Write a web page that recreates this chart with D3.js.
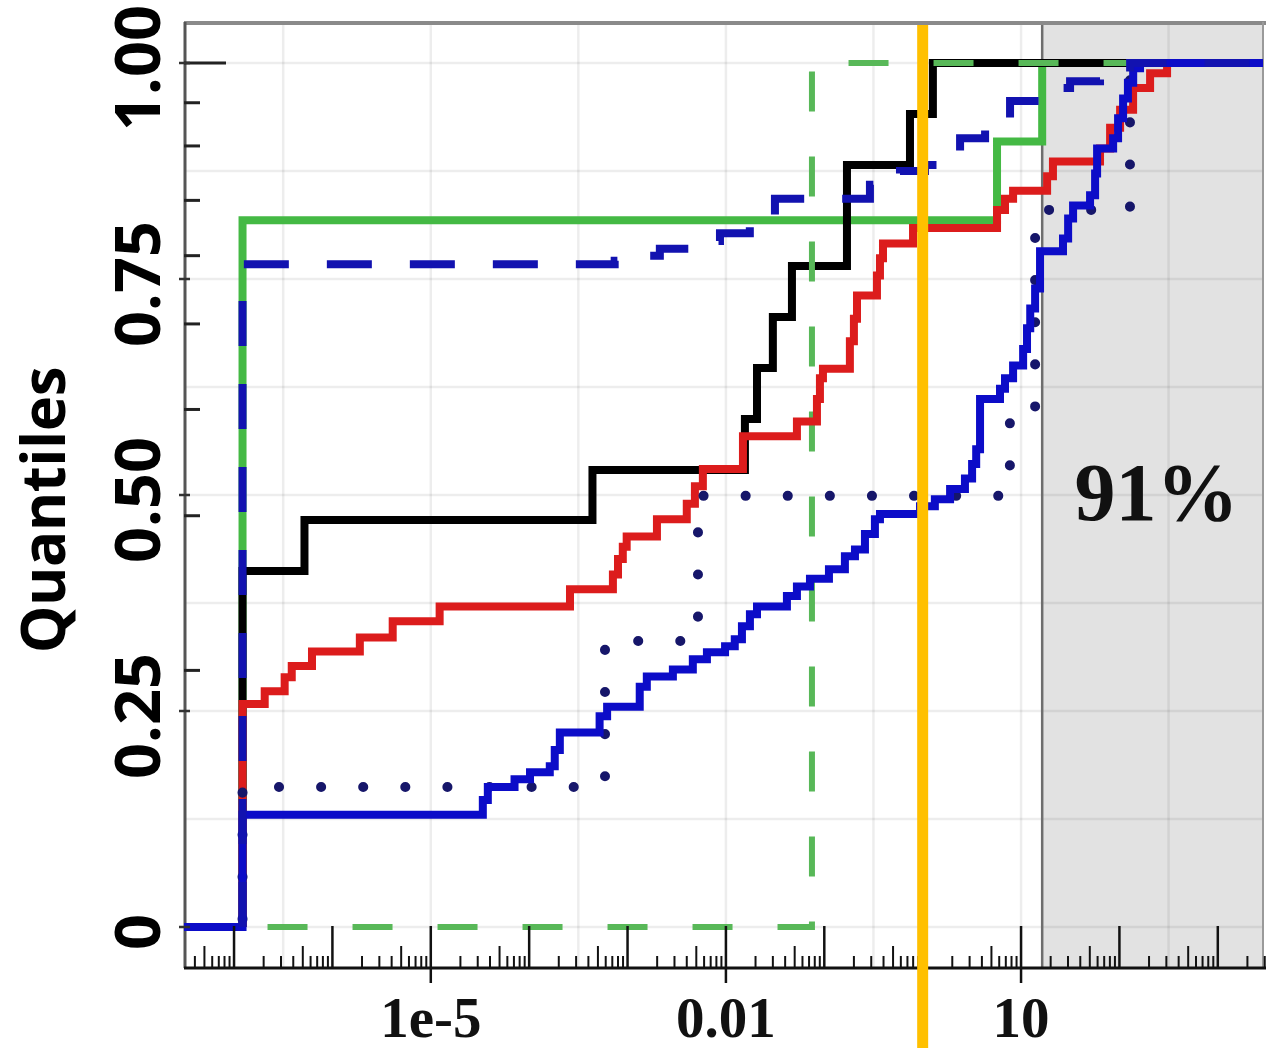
<!DOCTYPE html>
<html>
<head>
<meta charset="utf-8">
<script src="https://cdn.jsdelivr.net/npm/d3@7"></script>
<style>
  body { margin: 0; background: #fff; }
  svg { display: block; }
</style>
</head>
<body>
<svg></svg>
<script>
// Axis extents: log x, quantile y
const xDomain = [3.1e-8, 3090];
const yDomain = [0, 1];

// Tick values and labels
const yTicks = [0, 0.25, 0.5, 0.75, 1];
const yTickLabels = ["0", "0.25", "0.50", "0.75", "1.00"];
const yInnerTicks = [1.0, 0.954, 0.904, 0.841, 0.777, 0.698, 0.599, 0.476, 0.297];
const yGrid = [0, 0.125, 0.25, 0.375, 0.5, 0.625, 0.75, 0.875, 1];
const xGrid = [3.16e-7, 1e-5, 3.16e-4, 0.01, 0.316, 10, 316];
const xLabelTicks = [1e-5, 0.01, 10];
const xLabels = ["1e-5", "0.01", "10"];

// Shaded region and marker
const shadeFrom = 16.4;
const shadeLabel = "91%";
const markerX = 1;

// Series: [value, quantile], drawn as steps
const blackCdf = [
  [1.22e-7, 0], [1.22e-7, 0.412], [5.2e-7, 0.471], [4.4e-4, 0.529], [0.0156, 0.588],
  [0.0207, 0.647], [0.030, 0.706], [0.0469, 0.765], [0.170, 0.882], [0.743, 0.941], [1.27, 1.0]
];
const redCdf = [
  [1.22e-7, 0], [1.22e-7, 0.258], [2.05e-7, 0.273], [3.27e-7, 0.289], [3.86e-7, 0.302],
  [6.2e-7, 0.319], [1.9e-6, 0.335], [4.1e-6, 0.354], [1.23e-5, 0.371], [2.6e-4, 0.391],
  [7.1e-4, 0.408], [8.0e-4, 0.426], [8.95e-4, 0.440], [9.8e-4, 0.452], [1.99e-3, 0.472],
  [4.0e-3, 0.490], [4.84e-3, 0.510], [5.83e-3, 0.530], [0.0149, 0.568], [0.0527, 0.585],
  [0.0842, 0.611], [0.0903, 0.635], [0.0969, 0.646], [0.182, 0.678], [0.200, 0.704],
  [0.215, 0.731], [0.343, 0.754], [0.368, 0.774], [0.395, 0.791], [0.798, 0.809],
  [5.70, 0.830], [6.87, 0.843], [8.30, 0.852], [18.4, 0.869], [21.1, 0.886],
  [63.5, 0.901], [80.4, 0.925], [101.6, 0.946], [137.7, 0.971], [205, 0.988], [305, 1.0]
];
const blueCdf = [
  [3.1e-8, 0], [1.22e-7, 0.130], [3.38e-5, 0.147], [3.8e-5, 0.162], [7.1e-5, 0.171],
  [1.02e-4, 0.179], [1.62e-4, 0.186], [1.82e-4, 0.205], [2.05e-4, 0.225], [5.2e-4, 0.244],
  [6.2e-4, 0.255], [1.33e-3, 0.278], [1.57e-3, 0.290], [2.89e-3, 0.298], [4.61e-3, 0.310],
  [6.41e-3, 0.318], [9.8e-3, 0.325], [0.0123, 0.333], [0.01455, 0.348], [0.01754, 0.362],
  [0.0207, 0.371], [0.0417, 0.383], [0.0527, 0.394], [0.0715, 0.403], [0.1115, 0.414],
  [0.162, 0.429], [0.205, 0.437], [0.259, 0.455], [0.327, 0.472], [0.368, 0.478],
  [0.94, 0.487], [1.33, 0.495], [1.90, 0.507], [2.69, 0.519], [3.18, 0.536],
  [3.5, 0.553], [3.83, 0.611], [6.11, 0.623], [6.87, 0.635], [8.30, 0.650],
  [10.5, 0.669], [11.5, 0.693], [12.4, 0.716], [13.9, 0.739], [15.6, 0.782],
  [26.7, 0.797], [30.1, 0.820], [33.8, 0.835], [50.3, 0.847], [56.6, 0.872],
  [59.3, 0.901], [86.3, 0.913], [96.9, 0.936], [109, 0.959], [122, 0.977],
  [138, 0.994], [162, 1.0]
];
const blueDashed = [
  [1.22e-7, 0], [1.22e-7, 0.767], [7.4e-4, 0.771], [1.33e-3, 0.777], [2.13e-3, 0.785],
  [4.3e-3, 0.794], [8.7e-3, 0.803], [0.0175, 0.820], [0.0315, 0.843], [0.291, 0.859],
  [0.588, 0.875], [1.056, 0.882], [2.40, 0.913], [4.31, 0.928], [7.73, 0.956],
  [15.6, 0.971], [31.5, 0.979], [63.5, 0.990], [128.5, 1.0]
];
const blueDotted = [
  [1.22e-7, 0], [1.22e-7, 0.162], [5.9e-4, 0.331], [5.2e-3, 0.499], [7.7, 0.591],
  [13.9, 0.830], [128, 1.0]
];
const greenCdf = [
  [1.22e-7, 0], [1.22e-7, 0.818], [5.7, 0.909], [16.4, 1.0]
];
const greenDashed = [
  [1.22e-7, 0], [0.0749, 1.0]
];

// Layout
const W = 1266, H = 1048;
const plot = {left: 184, right: 1263, top: 22, bottom: 968};

const svg = d3.select("svg")
              .attr("width", W)
              .attr("height", H)
              .style("background", "#fff");

const x = d3.scaleLog().domain(xDomain).range([184, 1266]);
const y = d3.scaleLinear().domain(yDomain).range([927, 63]);

svg.append("clipPath").attr("id", "clip")
   .append("rect")
   .attr("x", plot.left).attr("y", plot.top)
   .attr("width", plot.right - plot.left).attr("height", plot.bottom - plot.top);

// Gray shaded region
svg.append("rect")
   .attr("x", x(shadeFrom))
   .attr("y", plot.top)
   .attr("width", plot.right - x(shadeFrom))
   .attr("height", plot.bottom - plot.top)
   .attr("fill", "#e2e2e2");

// Grid lines
const grid = svg.append("g").attr("stroke", "#000").attr("stroke-opacity", 0.07).attr("stroke-width", 2.5);
grid.selectAll(".gy").data(yGrid).enter().append("line")
    .attr("x1", plot.left).attr("x2", plot.right)
    .attr("y1", d => y(d)).attr("y2", d => y(d));
grid.selectAll(".gx").data(xGrid).enter().append("line")
    .attr("x1", d => x(d)).attr("x2", d => x(d))
    .attr("y1", plot.top).attr("y2", plot.bottom);

// Shade boundary
svg.append("line")
   .attr("x1", x(shadeFrom)).attr("x2", x(shadeFrom))
   .attr("y1", plot.top).attr("y2", plot.bottom)
   .attr("stroke", "#6e6e6e").attr("stroke-width", 2.5);

// Frame
svg.append("line").attr("x1", plot.left).attr("x2", W).attr("y1", plot.top + 1).attr("y2", plot.top + 1)
   .attr("stroke", "#8a8a8a").attr("stroke-width", 4);
svg.append("line").attr("x1", plot.right).attr("x2", plot.right).attr("y1", plot.top).attr("y2", plot.bottom)
   .attr("stroke", "#9a9a9a").attr("stroke-width", 2);
svg.append("line").attr("x1", plot.left + 1).attr("x2", plot.left + 1).attr("y1", plot.top).attr("y2", plot.bottom)
   .attr("stroke", "#555").attr("stroke-width", 3);

// Series
const line = d3.line()
               .x(d => x(d[0]))
               .y(d => y(d[1]))
               .curve(d3.curveStepAfter);
const extend = s => s.concat([[xDomain[1], s[s.length - 1][1]]]);

const layer = svg.append("g").attr("clip-path", "url(#clip)").attr("fill", "none")
                 .attr("stroke-linejoin", "miter");

const series = [
  {data: greenCdf, color: "#44b944", width: 8, dash: null},
  {data: blackCdf, color: "#000000", width: 8, dash: null},
  {data: greenDashed, color: "#58b858", width: 6, dash: "40 45", offset: -25},
  {data: redCdf, color: "#dc1c1c", width: 8, dash: null},
  {data: blueDotted, color: "#16166a", width: 10, dash: "0.1 42", cap: "round", offset: -8, noExtend: true},
  {data: blueCdf, color: "#0c0cc8", width: 8, dash: null},
  {data: blueDashed, color: "#1212b0", width: 8, dash: "45 38"}
];

series.forEach(s => {
  layer.append("path")
       .attr("d", line(s.noExtend ? s.data : extend(s.data)))
       .attr("stroke", s.color)
       .attr("stroke-width", s.width)
       .attr("stroke-dasharray", s.dash)
       .attr("stroke-dashoffset", s.offset || 0)
       .attr("stroke-linecap", s.cap || "butt");
});

// Y axis ticks
svg.selectAll(".yinner").data(yInnerTicks).enter().append("line")
   .attr("x1", plot.left).attr("x2", (d, i) => plot.left + (i === 0 ? 42 : 16))
   .attr("y1", d => y(d)).attr("y2", d => y(d))
   .attr("stroke", "#222").attr("stroke-width", 3);
svg.selectAll(".ymajor").data(yTicks).enter().append("line")
   .attr("x1", plot.left - 5).attr("x2", plot.left + 6)
   .attr("y1", d => y(d)).attr("y2", d => y(d))
   .attr("stroke", "#333").attr("stroke-width", 2.5);

svg.selectAll(".ylab").data(yTicks).enter().append("text")
   .attr("transform", d => `translate(160,${y(d) + 5}) rotate(-90)`)
   .attr("text-anchor", "middle")
   .attr("font-family", "'Open Sans', sans-serif")
   .attr("font-weight", "bold")
   .attr("font-size", 63)
   .attr("fill", "#000")
   .text((d, i) => yTickLabels[i]);

svg.append("text")
   .attr("transform", `translate(65,510) rotate(-90)`)
   .attr("text-anchor", "middle")
   .attr("font-family", "'Open Sans', sans-serif")
   .attr("font-weight", "bold")
   .attr("font-size", 60)
   .attr("letter-spacing", -0.5)
   .attr("fill", "#000")
   .text("Quantiles");

// X axis: log ticks pointing up into the plot
const logTicks = [];
for (let e = -8; e <= 3; e++) {
  for (let m = 1; m <= 9; m++) {
    const v = m * Math.pow(10, e);
    if (v >= xDomain[0] && v <= xDomain[1]) logTicks.push({v, m});
  }
}
svg.selectAll(".xt").data(logTicks).enter().append("line")
   .attr("x1", d => x(d.v)).attr("x2", d => x(d.v))
   .attr("y1", plot.bottom)
   .attr("y2", d => plot.bottom - (d.m === 1 ? 42 : d.m === 5 ? 22 : 12))
   .attr("stroke", "#111").attr("stroke-width", d => d.m === 1 ? 2.5 : 2);

svg.selectAll(".xl").data(xLabelTicks).enter().append("line")
   .attr("x1", d => x(d)).attr("x2", d => x(d))
   .attr("y1", plot.bottom).attr("y2", plot.bottom + 15)
   .attr("stroke", "#111").attr("stroke-width", 2.5);

svg.append("line")
   .attr("x1", plot.left).attr("x2", W)
   .attr("y1", plot.bottom).attr("y2", plot.bottom)
   .attr("stroke", "#111").attr("stroke-width", 3);

svg.selectAll(".xlab").data(xLabelTicks).enter().append("text")
   .attr("x", d => x(d))
   .attr("y", 1037)
   .attr("text-anchor", "middle")
   .attr("font-family", "'Liberation Serif', 'Times New Roman', serif")
   .attr("font-weight", "bold")
   .attr("font-size", 57)
   .attr("fill", "#111")
   .text((d, i) => xLabels[i]);

// Shaded-region label
svg.append("text")
   .attr("x", (x(shadeFrom) + plot.right) / 2 + 4)
   .attr("y", 520)
   .attr("text-anchor", "middle")
   .attr("font-family", "'Liberation Serif', 'Times New Roman', serif")
   .attr("font-weight", "bold")
   .attr("font-size", 82)
   .attr("fill", "#111")
   .text(shadeLabel);

// Orange marker line
svg.append("line")
   .attr("x1", x(markerX)).attr("x2", x(markerX))
   .attr("y1", plot.top + 3).attr("y2", H)
   .attr("stroke", "#ffc000").attr("stroke-width", 11);
</script>
</body>
</html>
